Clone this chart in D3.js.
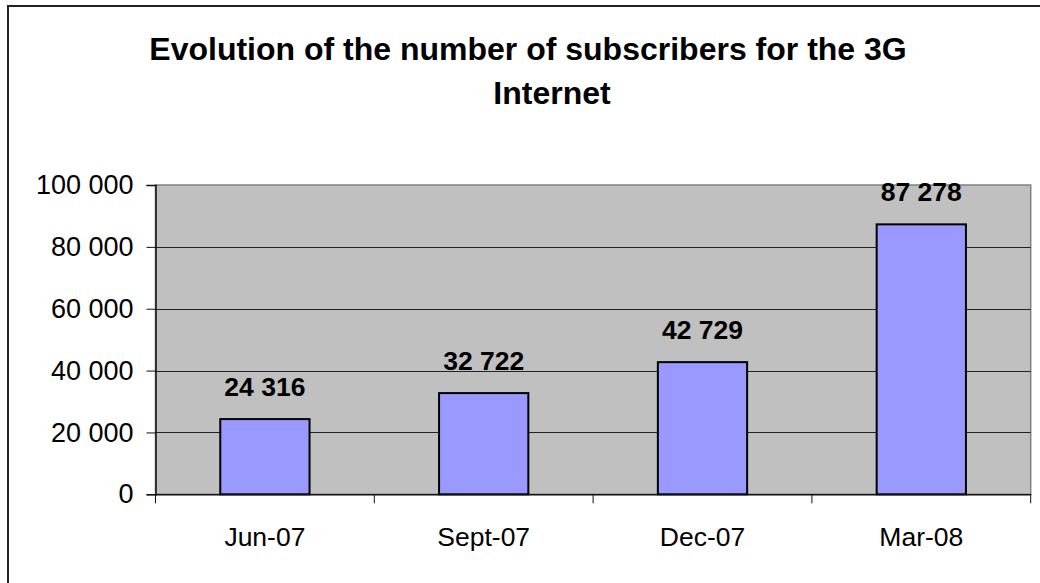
<!DOCTYPE html>
<html>
<head>
<meta charset="utf-8">
<script src="https://cdn.jsdelivr.net/npm/d3@7"></script>
<style>
  html, body { margin: 0; padding: 0; background: #fff; }
  svg { display: block; font-family: Arial, 'Liberation Sans', sans-serif; }
</style>
</head>
<body>
<div id="chart"></div>
<script>
const categories = ['Jun-07', 'Sept-07', 'Dec-07', 'Mar-08']
const subscribers = [24316, 32722, 42729, 87278]
const yTicks = [0, 20000, 40000, 60000, 80000, 100000]
const titleLines = ['Evolution of the number of subscribers for the 3G', 'Internet']

const width = 1040
const height = 583
const plot = { left: 155.5, top: 185, right: 1030.7, bottom: 494.3 }

const fmt = v => d3.format(',')(v).replace(/,/g, ' ')

const svg = d3.select('#chart')
  .append('svg')
  .attr('width', width)
  .attr('height', height)

// outer chart border (only top and left fall inside the picture)
svg.append('path')
  .attr('d', `M8,${height + 5}V6H${width + 5}`)
  .attr('fill', 'none')
  .attr('stroke', '#222')
  .attr('stroke-width', 2)

// Title
svg.append('text')
  .attr('font-size', 32)
  .attr('font-weight', 'bold')
  .attr('text-anchor', 'middle')
  .selectAll('tspan')
  .data(titleLines)
  .join('tspan')
  .attr('x', (d, i) => i === 0 ? 528 : 552)
  .attr('y', (d, i) => 60 + i * 43.5)
  .text(d => d)

// Scales
const x = d3.scaleBand()
  .domain(categories)
  .range([plot.left, plot.right])
  .paddingInner(0.592)
  .paddingOuter(0.296)

const y = d3.scaleLinear()
  .domain([0, 100000])
  .range([plot.bottom, plot.top])

// Plot area background
svg.append('rect')
  .attr('x', plot.left)
  .attr('y', plot.top)
  .attr('width', plot.right - plot.left)
  .attr('height', plot.bottom - plot.top)
  .attr('fill', '#c0c0c0')
  .attr('stroke', '#808080')
  .attr('stroke-width', 1.5)

// Gridlines
svg.append('g')
  .selectAll('line')
  .data(yTicks.filter(t => t > 0 && t < 100000))
  .join('line')
  .attr('x1', plot.left)
  .attr('x2', plot.right)
  .attr('y1', d => Math.round(y(d)) + 0.5)
  .attr('y2', d => Math.round(y(d)) + 0.5)
  .attr('stroke', '#222')
  .attr('stroke-width', 1)

// Bars
svg.append('g')
  .selectAll('rect')
  .data(subscribers)
  .join('rect')
  .attr('x', (d, i) => x(categories[i]))
  .attr('y', d => y(d))
  .attr('width', x.bandwidth())
  .attr('height', d => y(0) - y(d))
  .attr('fill', '#9999ff')
  .attr('stroke', '#000')
  .attr('stroke-width', 2)

// Data labels
svg.append('g')
  .selectAll('text')
  .data(subscribers)
  .join('text')
  .attr('x', (d, i) => x(categories[i]) + x.bandwidth() / 2)
  .attr('y', d => y(d) - 23)
  .attr('text-anchor', 'middle')
  .attr('font-size', 26.5)
  .attr('font-weight', 'bold')
  .text(d => fmt(d))

// Y axis
const yAxis = svg.append('g')
  .attr('transform', `translate(${plot.left},0)`)
  .call(d3.axisLeft(y).tickValues(yTicks).tickFormat(fmt).tickSize(9).tickPadding(13))
yAxis.select('.domain').attr('stroke', '#111').attr('stroke-width', 1.5)
yAxis.selectAll('.tick line').attr('stroke', '#111')
yAxis.selectAll('.tick text')
  .attr('font-size', 27)
  .attr('fill', '#000')
  .attr('font-family', 'Arial, Liberation Sans, sans-serif')

// X axis
const xAxis = svg.append('g')
  .attr('transform', `translate(0,${plot.bottom})`)
  .call(d3.axisBottom(x).tickSize(0).tickPadding(0))
xAxis.select('.domain').attr('stroke', '#111').attr('stroke-width', 1.5)
xAxis.selectAll('.tick text')
  .attr('y', 52)
  .attr('dy', 0)
  .attr('font-size', 26.5)
  .attr('fill', '#000')
  .attr('font-family', 'Arial, Liberation Sans, sans-serif')

// Tick marks between categories
const bounds = categories.map(c => x(c) - x.step() * x.paddingOuter()).concat([plot.right])
xAxis.append('g')
  .selectAll('line')
  .data(bounds)
  .join('line')
  .attr('x1', d => d)
  .attr('x2', d => d)
  .attr('y1', 0)
  .attr('y2', 9)
  .attr('stroke', '#111')
  .attr('stroke-width', 1)
</script>
</body>
</html>
